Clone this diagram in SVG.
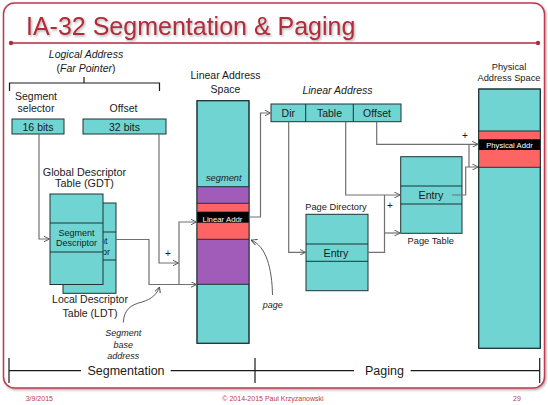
<svg xmlns="http://www.w3.org/2000/svg" width="548" height="405" viewBox="0 0 548 405">
<defs>
<style>
text{font-family:"Liberation Sans",Arial,sans-serif;fill:#1a1a1a}
.box{fill:#6fd4d2;stroke:#1e3333;stroke-width:1}
.seg{fill:#a15cb9}
.red{fill:#fe6464}
.blk{fill:#000}
.row{stroke:#1e3333;stroke-width:1;fill:none}
.lbl{font-size:10.5px;text-anchor:middle}
.sm{font-size:9.3px;text-anchor:middle}
.it{font-style:italic}
.wt{fill:#fff;font-size:7.8px;text-anchor:middle}
.conn{fill:none;stroke:#707070;stroke-width:1.2}
.arr{marker-end:url(#ah)}
.note{fill:none;stroke:#4a4a4a;stroke-width:0.9;marker-end:url(#ahn)}
.sep{stroke:#1a1a1a;stroke-width:1.2;fill:none}
.foot{font-size:7px;fill:#c0394b;text-anchor:middle}
.plus{font-size:10px;text-anchor:middle}
</style>
<marker id="ah" viewBox="0 0 6 6" refX="6" refY="3" markerWidth="6" markerHeight="6" markerUnits="userSpaceOnUse" orient="auto"><path d="M0,0 L6,3 L0,6" fill="none" stroke="#606060" stroke-width="1"/></marker>
<marker id="ahn" viewBox="0 0 6 6" refX="6" refY="3" markerWidth="6" markerHeight="6" markerUnits="userSpaceOnUse" orient="auto"><path d="M0,0 L6,3 L0,6" fill="none" stroke="#444" stroke-width="0.9"/></marker>
<filter id="shadow" x="-5%" y="-5%" width="110%" height="115%"><feDropShadow dx="1.2" dy="1.4" stdDeviation="0.8" flood-color="#777" flood-opacity="0.6"/></filter>
<!-- only the part of the LDT entry that sticks out from behind the GDT is visible -->
<clipPath id="ldt-visible"><rect x="103.5" y="200" width="14" height="95"/></clipPath>
</defs>

<!-- slide background and frame -->
<rect x="0" y="0" width="548" height="405" fill="#fff"/>
<rect x="3.5" y="3" width="541" height="385" rx="11" fill="#fff" stroke="#c0394b" stroke-width="1.5" filter="url(#shadow)"/>

<!-- title -->
<text x="26" y="34.5" font-size="25" style="fill:#b32a3c" filter="url(#shadow)">IA-32 Segmentation &amp; Paging</text>
<line x1="11" y1="43" x2="538" y2="43" stroke="#b32a3c" stroke-width="1.5"/>
<circle cx="11" cy="43" r="2.2" fill="#b32a3c"/>
<circle cx="538" cy="43" r="2.2" fill="#b32a3c"/>

<!-- logical address (far pointer) -->
<g id="logical-address">
<text class="lbl it" x="86" y="58">Logical Address</text>
<text class="lbl" x="86" y="71.5">(<tspan font-style="italic">Far Pointer</tspan>)</text>
<path class="sep" d="M9.5,91 V83 H159.5 V91 M84,77 V83"/>
<text class="lbl" x="36" y="99.5">Segment</text>
<text class="lbl" x="36" y="112">selector</text>
<text class="lbl" x="123.5" y="112">Offset</text>
<rect class="box" x="12" y="119" width="52" height="15"/>
<text class="lbl" x="38" y="130.5">16 bits</text>
<rect class="box" x="83" y="119" width="83" height="15"/>
<text class="lbl" x="124.5" y="130.5">32 bits</text>
</g>

<!-- local descriptor table (behind) -->
<g id="ldt">
<rect class="box" x="63" y="203" width="53" height="90.3"/>
<path class="row" d="M63,232 H116 M63,260 H116"/>
<g clip-path="url(#ldt-visible)">
<text x="89.5" y="244.2" font-size="9" text-anchor="middle">Segment</text>
<text x="89.5" y="254.9" font-size="9" text-anchor="middle">Descriptor</text>
</g>
<text class="lbl" x="90" y="303">Local Descriptor</text>
<text class="lbl" x="90" y="317">Table (LDT)</text>
</g>

<!-- global descriptor table -->
<g id="gdt">
<text x="84.5" y="175.5" font-size="10.8" text-anchor="middle">Global Descriptor</text>
<text x="84.5" y="187" font-size="10.8" text-anchor="middle">Table (GDT)</text>
<rect class="box" x="50" y="194" width="53" height="90.5"/>
<path class="row" d="M50,223 H103 M50,252 H103"/>
<text x="76.5" y="236" font-size="9" text-anchor="middle">Segment</text>
<text x="76.5" y="246.3" font-size="9" text-anchor="middle">Descriptor</text>
</g>

<!-- linear address space -->
<g id="linear-space">
<text class="lbl" x="225.5" y="79">Linear Address</text>
<text class="lbl" x="225.5" y="93">Space</text>
<rect class="box" x="197" y="100.7" width="52" height="242.6"/>
<rect class="seg" x="197" y="186.7" width="52" height="16.6"/>
<rect class="red" x="197" y="203.3" width="52" height="36"/>
<rect class="blk" x="197" y="211.7" width="52" height="11"/>
<rect class="seg" x="197" y="239.3" width="52" height="45"/>
<path class="row" d="M197,186.7 H249 M197,203.3 H249 M197,239.3 H249 M197,284.3 H249"/>
<rect x="197" y="100.7" width="52" height="242.6" fill="none" stroke="#1e3333"/>
<text class="sm it" x="223.8" y="180.5">segment</text>
<text class="wt" x="222.5" y="221.5">Linear Addr</text>
</g>

<!-- linear address fields -->
<g id="linear-address">
<text class="lbl it" x="337.5" y="94">Linear Address</text>
<rect class="box" x="271" y="104" width="130" height="17.7"/>
<path class="row" d="M305.7,104 V121.7 M353.3,104 V121.7"/>
<text class="lbl" x="288.3" y="117">Dir</text>
<text class="lbl" x="329.5" y="117">Table</text>
<text class="lbl" x="377" y="117">Offset</text>
</g>

<!-- page directory -->
<g id="page-directory">
<text class="sm" x="336" y="210">Page Directory</text>
<rect class="box" x="306" y="214.3" width="62" height="76.4"/>
<path class="row" d="M306,244 H368 M306,261.3 H368"/>
<text x="336" y="256.5" font-size="10.7" text-anchor="middle">Entry</text>
</g>

<!-- page table -->
<g id="page-table">
<rect class="box" x="400.7" y="156.7" width="61.3" height="76.6"/>
<path class="row" d="M400.7,186 H462 M400.7,204 H462"/>
<text x="431" y="198.5" font-size="10.7" text-anchor="middle">Entry</text>
<text class="sm" x="430.7" y="244">Page Table</text>
</g>

<!-- physical address space -->
<g id="physical-space">
<text class="sm" x="509" y="70">Physical</text>
<text class="sm" x="509" y="80.6">Address Space</text>
<rect class="box" x="478.7" y="89" width="61.6" height="259.3"/>
<rect class="red" x="478.7" y="131" width="61.6" height="36.3"/>
<rect class="blk" x="478.7" y="139.3" width="61.6" height="10.7"/>
<path class="row" d="M478.7,131 H540.3 M478.7,167.3 H540.3"/>
<rect x="478.7" y="89" width="61.6" height="259.3" fill="none" stroke="#1e3333"/>
<text class="wt" x="509.5" y="147.7" style="font-size:7.7px">Physical Addr</text>
</g>

<!-- connectors -->
<g id="connectors">
<path class="conn arr" d="M39,134 V239 H49.5"/>
<path class="conn arr" d="M116,239.5 H149 V284.5 H196.5"/>
<path class="conn arr" d="M159,134 V263 H178.5"/>
<path class="conn arr" d="M179,284.5 V222 H196.5"/>
<path class="conn arr" d="M249,217 H260.5 V113 H270.5"/>
<path class="conn arr" d="M288.7,121.7 V252.3 H305.5"/>
<path class="conn arr" d="M345.7,121.7 V195 H400.2"/>
<path class="conn" d="M368,252.3 H384.5 V195"/>
<path class="conn arr" d="M384.5,233 H400.2"/>
<path class="conn arr" d="M376.7,121.7 V144.3 H478.2"/>
<path class="conn" d="M469,144.3 V167"/>
<path class="conn arr" d="M452,195 H465.7 V167 H478.2"/>
<text class="plus" x="168" y="256.5">+</text>
<text class="plus" x="390" y="209">+</text>
<text class="plus" x="465" y="139">+</text>
<path class="note" d="M123.3,322.5 C124,310 130,305 142,302 C152,299 157,294 159.5,287"/>
<path class="note" d="M272.5,295 C272,268 266,246 251,240"/>
</g>

<!-- annotations -->
<text x="123.3" y="336" font-size="9" font-style="italic" text-anchor="middle">Segment</text>
<text x="123.3" y="348.3" font-size="9" font-style="italic" text-anchor="middle">base</text>
<text x="123.3" y="359.3" font-size="9" font-style="italic" text-anchor="middle">address</text>
<text x="272.7" y="308" font-size="9" font-style="italic" text-anchor="middle">page</text>

<!-- segmentation / paging span -->
<path class="sep" d="M9,370.7 H81 M170.7,370.7 H354 M410.7,370.7 H539.7"/>
<path class="sep" stroke-width="1.5" d="M9,358 V383 M255,358 V383 M539.7,358 V383"/>
<text x="126" y="375" font-size="12.5" text-anchor="middle">Segmentation</text>
<text x="384.5" y="375" font-size="12.5" text-anchor="middle">Paging</text>

<!-- footer -->
<text class="foot" x="39.3" y="400.5">3/9/2015</text>
<text class="foot" x="273" y="400.5">© 2014-2015 Paul Krzyzanowski</text>
<text class="foot" x="517" y="400.5">29</text>
</svg>
